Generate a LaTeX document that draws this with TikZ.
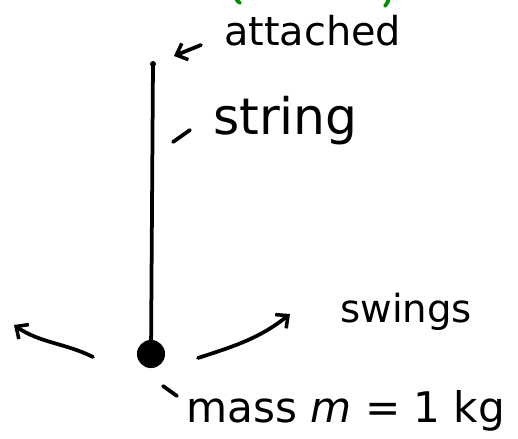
\documentclass[tikz,border=0pt]{standalone}
\usepackage{fontspec}
\setmainfont{DejaVu Sans}
\usetikzlibrary{arrows.meta}

\tikzset{
  pen/.style={line width=3.2pt,line cap=round,line join=round},
  hand/.style={inner sep=0pt,anchor=base west},
  tip/.style={-{Straight Barb[length=8pt,width=15pt,line width=3pt]}}
}

\begin{document}
\begin{tikzpicture}[x=0.03cm,y=-0.03cm]
\useasboundingbox (0,0) rectangle (518,439);
% green marks (cut off at the top)
\draw[pen,green!55!black] (236,-3) .. controls (237,1) .. (240,3);
\draw[pen,green!55!black] (389,-3) .. controls (388,2) .. (385,6);
% pendulum
\coordinate (top) at (153,64);
\node[circle,fill,inner sep=0pt,minimum size=24] (mass) at (151,354) {};
\fill (top) circle (3);
\draw[pen] (top) -- (mass.center);
% labels
\node[hand,font=\fontsize{34}{34}\selectfont] (att) at (224,45) {attached};
\coordinate (a1) at (201,45);
\coordinate (a2) at (174,56);
\draw[pen,tip] (a1) -- (a2);
\node[hand,font=\fontsize{43}{43}\selectfont] (str) at (213,134) {string};
\coordinate (s1) at (173,142);
\coordinate (s2) at (190,130);
\draw[pen] (s1) -- (s2);
\node[hand,font=\fontsize{33}{33}\selectfont] (sw) at (340,322) {swings};
\node[hand,font=\fontsize{36}{36}\selectfont] (ms) at (186,422) {mass \textit{m} = 1 kg};
\coordinate (m1) at (163,386);
\coordinate (m2) at (177,396);
\draw[pen] (m1) -- (m2);
% swing arrows
\coordinate (l1) at (93,357);
\coordinate (l2) at (14,325);
\draw[pen,tip] (l1) .. controls (65,343) and (40,343) .. (l2);
\coordinate (r1) at (198,358);
\coordinate (r2) at (290,314);
\draw[pen,tip] (r1) .. controls (235,346) and (260,338) .. (r2);
\end{tikzpicture}
\end{document}
